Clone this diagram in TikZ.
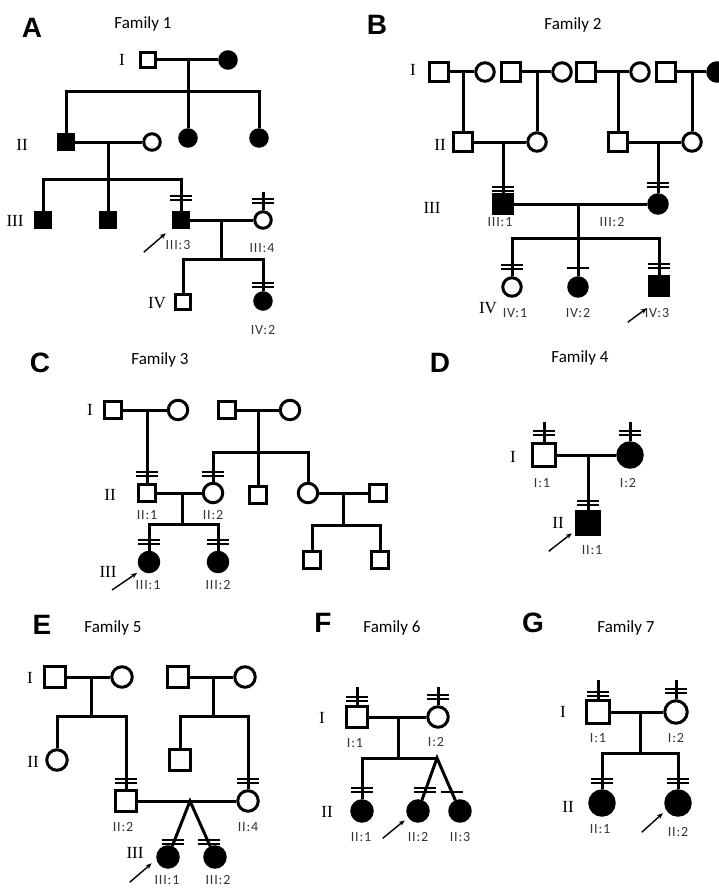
\documentclass[tikz,border=0pt]{standalone}
\usepackage{fontspec}
\setmainfont{Carlito}
\newfontfamily\panelfont{Liberation Sans}
\newfontfamily\romanfont{Liberation Serif}
\usetikzlibrary{arrows.meta,calc}

\tikzset{
  male/.style={draw, rectangle, minimum size=\sqsize, inner sep=0pt},
  female/.style={draw, circle, minimum size=\cisize, inner sep=0pt},
  aff/.style={fill=black},
  bar/.style={line width=1.8pt},
  proband/.style={{Stealth[length=6pt,width=5pt]}-, line width=1.4pt},
  panel/.style={font=\panelfont\bfseries\fontsize{28}{28}\selectfont},
  famtitle/.style={font=\fontsize{17}{17}\selectfont},
  gen/.style={font=\romanfont\fontsize{17}{17}\selectfont},
  idlab/.style={font=\fontsize{14}{14}\selectfont\addfontfeature{LetterSpace=6}, text=black!80},
}
\newcommand\twobars[2]{\draw[bar] ([shift={(-11pt,#2pt)}]#1) -- ++(22pt,0pt) ++(0pt,4pt) -- ++(-22pt,0pt);}
\newcommand\onebar[2]{\draw[bar] ([shift={(-11pt,#2pt)}]#1) -- ++(22pt,0pt);}
\newcommand\founderstub[2]{\draw (#1.north) -- ([yshift=#2pt]#1.north);}

\begin{document}
\begin{tikzpicture}[x=1pt, y=-1pt, line width=3pt]
\useasboundingbox (0,0) rectangle (719,888);

% Family 1
\begin{scope}
\def\sqsize{15.5pt}\def\cisize{16.5pt}
\node[panel] (pA) at (32,28) {A};
\node[famtitle] (tA) at (143,24) {Family 1};
\node[gen] (gA1) at (122,60) {I};
\node[gen] (gA2) at (22,145) {II};
\node[gen] (gA3) at (15,221) {III};
\node[gen] (gA4) at (157,303) {IV};
\node[male] (a1) at (148,60) {};
\node[female,aff] (a2) at (228,60) {};
\coordinate (am1) at (188,60);
\coordinate (as1) at (188,92);
\node[male,aff] (a3) at (66,142) {};
\node[female,aff] (a4) at (188,138) {};
\node[female,aff] (a5) at (259,138) {};
\node[female] (a6) at (152,142) {};
\draw (a1) -- (a2);
\draw (am1) -- (a4);
\draw (a3) |- (as1) -| (a5);
\draw (a3) -- (a6);
\coordinate (am2) at (108,142);
\coordinate (as2) at (108,179);
\node[male,aff] (a7) at (43,220) {};
\node[male,aff] (a8) at (108,220) {};
\node[male,aff] (a9) at (181,220) {};
\node[female] (a10) at (263,220) {};
\draw (am2) -- (a8);
\draw (a7) |- (as2) -| (a9);
\draw (a9) -- (a10);
\coordinate (am3) at (221,220);
\coordinate (as3) at (221,259);
\node[male] (a11) at (183,302) {};
\node[female,aff] (a12) at (263,301) {};
\draw (am3) -- (as3);
\draw (a11) |- (as3) -| (a12);
\twobars{a9.north}{11}
\founderstub{a10}{18}
\twobars{a10.north}{7.5}
\twobars{a12.north}{4.5}
\node[idlab] (lA1) at (178,245) {III:3};
\node[idlab] (lA2) at (262,248) {III:4};
\node[idlab] (lA3) at (263,330) {IV:2};
\draw[proband] ([shift={(-6,4)}]a9.south west) -- ++(-22,19);
\end{scope}

% Family 2
\begin{scope}
\def\sqsize{18.5pt}\def\cisize{18.5pt}
\node[panel] (pB) at (377,25) {B};
\node[famtitle] (tB) at (573,25) {Family 2};
\node[gen] (gB1) at (413,70) {I};
\node[gen] (gB2) at (440,145) {II};
\node[gen] (gB3) at (432,208) {III};
\node[gen] (gB4) at (488,308) {IV};
\node[male] (b1) at (439,72) {};
\node[female] (b2) at (485,72) {};
\node[male] (b3) at (511,72) {};
\node[female] (b4) at (562,72) {};
\node[male] (b5) at (586,72) {};
\node[female] (b6) at (640,72) {};
\node[male] (b7) at (666,72) {};
\node[female,aff] (b8) at (717,72) {};
\coordinate (bm1) at (463,72);
\coordinate (bm2) at (537,72);
\coordinate (bm3) at (618,72);
\coordinate (bm4) at (692,72);
\node[male] (b9) at (463,142) {};
\node[female] (b10) at (537,142) {};
\node[male] (b11) at (618,142) {};
\node[female] (b12) at (692,142) {};
\draw (b1) -- (b2);
\draw (b3) -- (b4);
\draw (b5) -- (b6);
\draw (b7) -- (b8);
\draw (bm1) -- (b9);
\draw (bm2) -- (b10);
\draw (bm3) -- (b11);
\draw (bm4) -- (b12);
\coordinate (bm5) at (503,142);
\coordinate (bm6) at (658,142);
\node[male,aff] (b13) at (503,204) {};
\node[female,aff] (b14) at (658,204) {};
\draw (b9) -- (b10);
\draw (b11) -- (b12);
\draw (bm5) -- (b13);
\draw (bm6) -- (b14);
\draw (b13) -- (b14);
\coordinate (bm7) at (578,204);
\coordinate (bs7) at (578,238);
\node[female] (b15) at (512,287) {};
\node[female,aff] (b16) at (578,287) {};
\node[male,aff] (b17) at (659,286) {};
\draw (bm7) -- (b16);
\draw (b15) |- (bs7) -| (b17);
\twobars{b13.north}{2}
\twobars{b14.north}{6}
\twobars{b15.north}{7.5}
\onebar{b16.north}{8.5}
\twobars{b17.north}{7.5}
\node[idlab] (lB1) at (500,222) {III:1};
\node[idlab] (lB2) at (612,222) {III:2};
\node[idlab] (lB3) at (515,313) {IV:1};
\node[idlab] (lB4) at (578,313) {IV:2};
\node[idlab] (lB5) at (657,313) {IV:3};
\draw[proband] ([shift={(-1.5,11.5)}]b17.south west) -- ++(-19,14);
\end{scope}

% Family 3
\begin{scope}
\def\sqsize{17.5pt}\def\cisize{19.5pt}
\node[panel] (pC) at (40,363) {C};
\node[famtitle] (tC) at (160,360) {Family 3};
\node[gen] (gC1) at (90,410) {I};
\node[gen] (gC2) at (110,495) {II};
\node[gen] (gC3) at (108,572) {III};
\node[male] (c1) at (113,410) {};
\node[female] (c2) at (178,410) {};
\coordinate (cm1) at (147,410);
\node[male] (c3) at (147,493) {};
\draw (c1) -- (c2);
\draw (cm1) -- (c3);
\node[male] (c4) at (227,410) {};
\node[female] (c5) at (290,410) {};
\coordinate (cm2) at (258,410);
\coordinate (cs2) at (258,452);
\node[female] (c6) at (213,493) {};
\node[male] (c7) at (258,495) {};
\node[female] (c8) at (308,493) {};
\draw (c4) -- (c5);
\draw (cm2) -- (c7);
\draw (c6) |- (cs2) -| (c8);
\draw (c3) -- (c6);
\coordinate (cm3) at (182,493);
\coordinate (cs3) at (182,524);
\node[female,aff] (c9) at (149,562) {};
\node[female,aff] (c10) at (218,562) {};
\draw (cm3) -- (cs3);
\draw (c9) |- (cs3) -| (c10);
\node[male] (c11) at (378,493) {};
\draw (c8) -- (c11);
\coordinate (cm4) at (343,493);
\coordinate (cs4) at (343,525);
\node[male] (c12) at (312,560) {};
\node[male] (c13) at (380,560) {};
\draw (cm4) -- (cs4);
\draw (c12) |- (cs4) -| (c13);
\twobars{c3.north}{7}
\twobars{c6.north}{6}
\twobars{c9.north}{7}
\twobars{c10.north}{7}
\node[idlab] (lC1) at (147,515) {II:1};
\node[idlab] (lC2) at (213,515) {II:2};
\node[idlab] (lC3) at (148,585) {III:1};
\node[idlab] (lC4) at (218,585) {III:2};
\draw[proband] ([shift={(-4,3)}]c9.south west) -- ++(-25,17);
\end{scope}

% Family 4
\begin{scope}
\def\sqsize{22.5pt}\def\cisize{24.5pt}
\node[panel] (pD) at (440,363) {D};
\node[famtitle] (tD) at (580,358) {Family 4};
\node[gen] (gD1) at (513,457) {I};
\node[gen] (gD2) at (558,523) {II};
\node[male] (d1) at (544,455) {};
\node[female,aff] (d2) at (630,455) {};
\coordinate (dm1) at (588,455);
\node[male,aff] (d3) at (588,523) {};
\draw (d1) -- (d2);
\draw (dm1) -- (d3);
\founderstub{d1}{20.5}
\founderstub{d2}{19.5}
\twobars{d1.north}{7.5}
\twobars{d2.north}{6.5}
\twobars{d3.north}{5.5}
\node[idlab] (lD1) at (542,483) {I:1};
\node[idlab] (lD2) at (628,483) {I:2};
\node[idlab] (lD3) at (592,550) {II:1};
\draw[proband] ([shift={(-3.5,-2.5)}]d3.south west) -- ++(-23,18);
\end{scope}

% Family 5
\begin{scope}
\def\sqsize{20.5pt}\def\cisize{20.5pt}
\node[panel] (pE) at (42,625) {E};
\node[famtitle] (tE) at (113,628) {Family 5};
\node[gen] (gE1) at (30,678) {I};
\node[gen] (gE2) at (33,762) {II};
\node[gen] (gE3) at (135,853) {III};
\node[male] (e1) at (55,677) {};
\node[female] (e2) at (122,677) {};
\coordinate (em1) at (91,677);
\coordinate (es1) at (91,716);
\node[female] (e3) at (57,760) {};
\node[male] (e4) at (126,801) {};
\draw (e1) -- (e2);
\draw (em1) -- (es1);
\draw (e3) |- (es1) -| (e4);
\node[male] (e5) at (178,677) {};
\node[female] (e6) at (245,677) {};
\coordinate (em2) at (213,677);
\coordinate (es2) at (213,716);
\node[male] (e7) at (180,760) {};
\node[female] (e8) at (248,801) {};
\draw (e5) -- (e6);
\draw (em2) -- (es2);
\draw (e7) |- (es2) -| (e8);
\draw (e4) -- (e8);
\coordinate (em3) at (190,801);
\node[female,aff] (e9) at (168,857) {};
\node[female,aff] (e10) at (215,857) {};
\draw (e9) -- (em3) -- (e10);
\coordinate (et1) at ($(em3)!0.77!(e9)$);
\coordinate (et2) at ($(em3)!0.77!(e10)$);
\twobars{e4.north}{6.5}
\twobars{e8.north}{6.5}
\twobars{et1}{0}
\twobars{et2}{0}
\node[idlab] (lE1) at (123,827) {II:2};
\node[idlab] (lE2) at (248,827) {II:4};
\node[idlab] (lE3) at (167,880) {III:1};
\node[idlab] (lE4) at (218,880) {III:2};
\draw[proband] ([shift={(-8,-2)}]e9.south west) -- ++(-22,19);
\end{scope}

% Family 6
\begin{scope}
\def\sqsize{20.5pt}\def\cisize{20.5pt}
\node[panel] (pF) at (323,623) {F};
\node[famtitle] (tF) at (392,628) {Family 6};
\node[gen] (gF1) at (322,718) {I};
\node[gen] (gF2) at (327,812) {II};
\node[male] (f1) at (357,717) {};
\node[female] (f2) at (438,717) {};
\coordinate (fm1) at (398,717);
\coordinate (fs1) at (398,758);
\coordinate (tw) at (437,758);
\node[female,aff] (f3) at (362,811) {};
\node[female,aff] (f4) at (418,811) {};
\node[female,aff] (f5) at (460,811) {};
\draw (f1) -- (f2);
\draw (fm1) -- (fs1);
\draw (f3) |- (tw);
\draw (f4) -- (tw) -- (f5);
\coordinate (ft1) at ($(tw)!0.64!(f4)$);
\coordinate (ft2) at ($(tw)!0.64!(f5)$);
\founderstub{f1}{18.5}
\founderstub{f2}{18.5}
\twobars{f1.north}{4.5}
\twobars{f2.north}{6.5}
\twobars{f3.north}{7.5}
\twobars{ft1}{0}
\onebar{ft2}{0}
\node[idlab] (lF1) at (355,743) {I:1};
\node[idlab] (lF2) at (436,742) {I:2};
\node[idlab] (lF3) at (361,837) {II:1};
\node[idlab] (lF4) at (418,837) {II:2};
\node[idlab] (lF5) at (460,837) {II:3};
\draw[proband] ([shift={(-5,1)}]f4.south west) -- ++(-22,18);
\end{scope}

% Family 7
\begin{scope}
\def\sqsize{22.5pt}\def\cisize{22.5pt}
\node[panel] (pG) at (533,623) {G};
\node[famtitle] (tG) at (626,628) {Family 7};
\node[gen] (gG1) at (563,712) {I};
\node[gen] (gG2) at (568,807) {II};
\node[male] (g1) at (598,712) {};
\node[female] (g2) at (676,712) {};
\coordinate (gm1) at (640,712);
\coordinate (gs1) at (640,753);
\node[female,aff,minimum size=24.5pt] (g3) at (602,803) {};
\node[female,aff,minimum size=24.5pt] (g4) at (678,803) {};
\draw (g1) -- (g2);
\draw (gm1) -- (gs1);
\draw (g3) |- (gs1) -| (g4);
\founderstub{g1}{19.5}
\founderstub{g2}{19.5}
\twobars{g1.north}{3.5}
\twobars{g2.north}{6.5}
\twobars{g3.north}{6.5}
\twobars{g4.north}{6.5}
\node[idlab] (lG1) at (598,738) {I:1};
\node[idlab] (lG2) at (676,738) {I:2};
\node[idlab] (lG3) at (600,829) {II:1};
\node[idlab] (lG4) at (678,832) {II:2};
\draw[proband] ([shift={(-5.5,0.5)}]g4.south west) -- ++(-21,19);
\end{scope}
\end{tikzpicture}
\end{document}
